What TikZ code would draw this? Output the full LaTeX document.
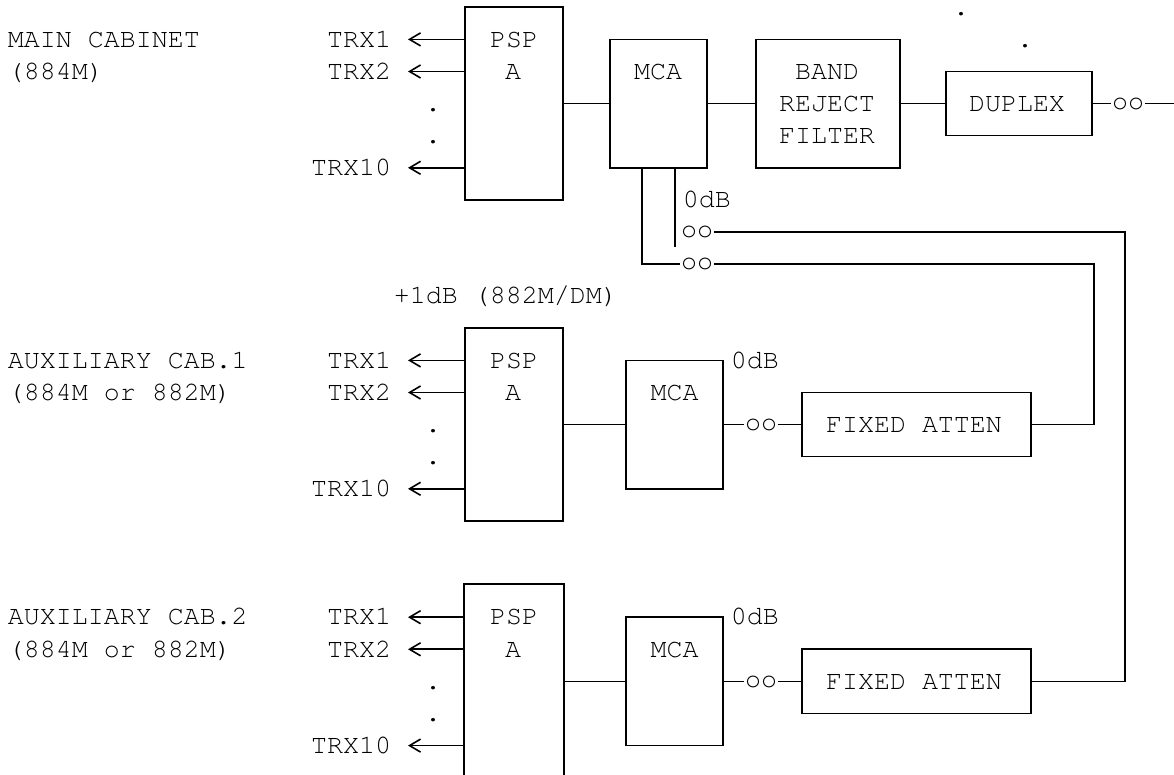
\documentclass[tikz,border=0pt]{standalone}
\usepackage[T1]{fontenc}
\usepackage{courier}
\usetikzlibrary{arrows.meta,fit,calc}
\begin{document}
\begin{tikzpicture}[x=0.5pt,y=-16.05pt,line width=0.8pt,
  box/.style={draw,inner sep=0pt},
  frame/.style={inner sep=0pt},
  txt/.style={inner sep=0pt,font=\fontsize{13.33}{16}\selectfont\ttfamily},
  ctr/.style={txt,anchor=base},
  lft/.style={txt,anchor=base west},
  rgt/.style={txt,anchor=base east},
  tail/.style={-{Straight Barb[length=5.5pt,width=6.5pt]}},
  ]
\useasboundingbox (0,-0.2274) rectangle (1174,23.916);

% cabinet labels
\node[lft] (lab1) at (7,1.24) {MAIN CABINET};
\node[lft] (lab1b) at (7,2.24) {(884M)};
\node[lft] (lab2) at (7,11.24) {AUXILIARY CAB.1};
\node[lft] (lab2b) at (7,12.24) {(884M or 882M)};
\node[lft] (lab3) at (7,19.24) {AUXILIARY CAB.2};
\node[lft] (lab3b) at (7,20.24) {(884M or 882M)};

% PSP boxes
\node[box,fit={(465,0) (563,6)}] (psp1) {};
\node[box,fit={(465,10) (563,16)}] (psp2) {};
\node[frame,fit={(465,18) (563,23.916)}] (psp3) {};
\draw (psp3.south west) |- (psp3.north east) -- (psp3.south east);

\foreach \s/\R in {1/1,2/11,3/19}{
  \node[ctr] (pspt\s) at (514,\R+0.24) {PSP};
  \node[ctr] (pspa\s) at (513,\R+1.24) {A};
  \foreach \k/\d in {1/0,2/1,10/4}{
    \node[rgt] (trx\s-\k) at (392,\R+\d+0.24) {TRX\k};
    \coordinate (tip\s-\k) at (408,\R+\d);
    \draw[tail] (psp\s.west |- tip\s-\k) -- (tip\s-\k);
  }
  \node[ctr] (dotA\s) at (433,\R+2.25) {.};
  \node[ctr] (dotB\s) at (433,\R+3.25) {.};
}

% main cabinet chain
\node[box,fit={(610,1) (707,5)}] (mca1) {};
\node[ctr] (mcat1) at (658,2.24) {MCA};
\node[box,fit={(756,1) (900,5)}] (brf) {};
\node[ctr] (brf1) at (827,2.24) {BAND};
\node[ctr] (brf2) at (827,3.24) {REJECT};
\node[ctr] (brf3) at (827,4.24) {FILTER};
\node[box,fit={(946,2) (1092,4)}] (dup) {};
\node[ctr] (dupt) at (1017,3.24) {DUPLEX};
\node[txt] (oo0) at (1128,3) {oo};
\coordinate (out) at (1174,3);
\node[ctr] (sd1) at (961,0.26) {.};
\node[ctr] (sd2) at (1025,1.26) {.};

\draw (psp1.east) -- (mca1.west);
\draw (mca1.east) -- (brf.west);
\draw (brf.east) -- (dup.west);
\draw (dup.east) -- (oo0.west);
\draw (oo0.east) -- (out);

% outputs below main MCA
\node[lft] (db1) at (682,6.24) {0dB};
\node[txt] (ooA) at (697,7) {oo};
\node[txt] (ooB) at (697,8) {oo};
\coordinate (vA) at (675,7.46);
\coordinate (vB) at (642,8);
\coordinate (cOut) at (1125,7);
\coordinate (cIn) at (1094,8);
\draw (mca1.south -| vA) -- (vA);
\draw (mca1.south -| vB) |- (ooB.west);

% auxiliary cabinet 1
\node[lft] (gain) at (393,9.24) {+1dB (882M/DM)};
\node[box,fit={(626,11) (723,15)}] (mca2) {};
\node[ctr] (mcat2) at (674.5,12.24) {MCA};
\node[lft] (db2) at (730,11.24) {0dB};
\node[txt] (oo2) at (761,13) {oo};
\node[box,fit={(802,12) (1031,14)}] (fa1) {};
\node[ctr] (fat1) at (914,13.24) {FIXED ATTEN};
\draw (psp2.east) -- (mca2.west);
\draw (mca2.east) -- (oo2.west);
\draw (oo2.east) -- (fa1.west);

% auxiliary cabinet 2
\node[box,fit={(626,19) (723,23)}] (mca3) {};
\node[ctr] (mcat3) at (674.5,20.24) {MCA};
\node[lft] (db3) at (730,19.24) {0dB};
\node[txt] (oo3) at (761,21) {oo};
\node[box,fit={(802,20) (1031,22)}] (fa2) {};
\node[ctr] (fat2) at (914,21.24) {FIXED ATTEN};
\draw (psp3.east |- mca3.west) -- (mca3.west);
\draw (mca3.east) -- (oo3.west);
\draw (oo3.east) -- (fa2.west);

% combining lines
\draw (ooA.east) -| (cOut |- fa2.east) -- (fa2.east);
\draw (ooB.east) -| (cIn |- fa1.east) -- (fa1.east);
\end{tikzpicture}
\end{document}
